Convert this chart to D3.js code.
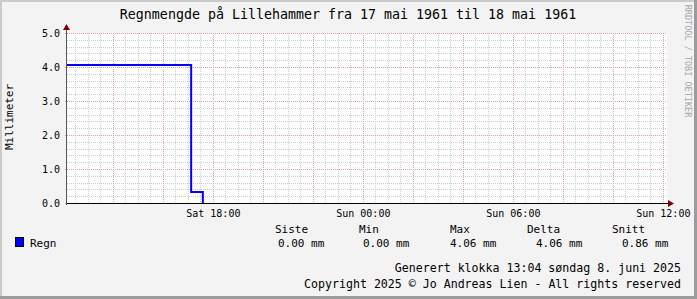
<!DOCTYPE html>
<html>
<head>
<meta charset="utf-8">
<script src="https://cdn.jsdelivr.net/npm/d3@7"></script>
<style>
  body { margin: 0; background: #f3f3f3; }
  svg text { font-family: "DejaVu Sans Mono", monospace; fill: #000; }
</style>
</head>
<body>
<svg id="chart" width="697" height="299"></svg>
<script>
// data (step values in mm)
var times = ["1961-05-20T12:10", "1961-05-20T17:08", "1961-05-20T17:36", "1961-05-20T17:36"];
var values = [4.06, 0.32, 0.0, 0.0];
var endTime = "1961-05-21T12:10";
var yTicks = [0, 1, 2, 3, 4, 5];
var legendHeads = ["Siste", "Min", "Max", "Delta", "Snitt"];
var legendVals = ["0.00 mm", "0.00 mm", "4.06 mm", "4.06 mm", "0.86 mm"];

var parseTime = d3.timeParse("%Y-%m-%dT%H:%M");
var dayNames = ["Sun", "Mon", "Tue", "Wed", "Thu", "Fri", "Sat"];

var svg = d3.select("#chart"),
    width = 697,
    height = 299;

var margin = {top: 33, right: 30, bottom: 96, left: 67};

// background + 3d border
svg.append("rect").attr("width", width).attr("height", height).attr("fill", "#f3f3f3");
svg.append("path").attr("d", "M0,0H697V2H2V299H0Z").attr("fill", "#cbcbcb");
svg.append("path").attr("d", "M697,0V299H0V296H694V0Z").attr("fill", "#9b9b9b");

var x = d3.scaleTime()
    .domain([parseTime(times[0]), parseTime(endTime)])
    .range([margin.left, width - margin.right]);

var y = d3.scaleLinear()
    .domain([0, 5])
    .range([height - margin.bottom, margin.top]);

// canvas
svg.append("rect")
    .attr("x", x.range()[0]).attr("y", y(5))
    .attr("width", x.range()[1] - x.range()[0]).attr("height", y(0) - y(5))
    .attr("fill", "#fff");

var grid = svg.append("g").attr("shape-rendering", "crispEdges");

// minor grid
var minorX = d3.timeMinute.every(30).range(x.domain()[0], x.domain()[1]);
grid.selectAll(".vmin").data(minorX).enter().append("line")
    .attr("x1", d => Math.round(x(d)) + 0.5).attr("x2", d => Math.round(x(d)) + 0.5)
    .attr("y1", y(5)).attr("y2", y(0))
    .attr("stroke", "#cdcdcd").attr("stroke-dasharray", "1,1");

var minorY = d3.range(0, 5.01, 0.2);
grid.selectAll(".hmin").data(minorY).enter().append("line")
    .attr("x1", x.range()[0]).attr("x2", x.range()[1])
    .attr("y1", d => Math.round(y(d)) + 0.5).attr("y2", d => Math.round(y(d)) + 0.5)
    .attr("stroke", "#cdcdcd").attr("stroke-dasharray", "1,1");

// major grid
var majorX = d3.timeHour.every(2).range(x.domain()[0], x.domain()[1]);
grid.selectAll(".vmaj").data(majorX).enter().append("line")
    .attr("x1", d => Math.round(x(d)) + 0.5).attr("x2", d => Math.round(x(d)) + 0.5)
    .attr("y1", y(5)).attr("y2", y(0) + 2)
    .attr("stroke", "#e3a0a0").attr("stroke-dasharray", "1,1");

grid.selectAll(".hmaj").data(yTicks).enter().append("line")
    .attr("x1", x.range()[0] - 2).attr("x2", x.range()[1])
    .attr("y1", d => Math.round(y(d)) + 0.5).attr("y2", d => Math.round(y(d)) + 0.5)
    .attr("stroke", "#e3a0a0").attr("stroke-dasharray", "1,1");

// the data line
var data = times.map((t, i) => ({t: parseTime(t), v: values[i]}));
var line = d3.line()
    .x(d => x(d.t))
    .y(d => y(d.v))
    .curve(d3.curveStepAfter);
svg.append("path")
    .datum(data)
    .attr("fill", "none")
    .attr("stroke", "#0000ff")
    .attr("stroke-width", 2)
    .attr("d", line);

// axes
var yAxis = g => g
    .attr("transform", `translate(${x.range()[0]},0)`)
    .call(d3.axisLeft(y).tickValues(yTicks).tickFormat(d3.format(".1f")).tickSize(0).tickPadding(7))
    .call(g => g.select(".domain").remove())
    .call(g => g.selectAll("text").attr("font-size", 10).attr("font-family", "DejaVu Sans Mono"));
svg.append("g").call(yAxis);

var labelTicks = d3.timeHour.every(6).range(x.domain()[0], x.domain()[1]);
var xAxis = g => g
    .attr("transform", `translate(0,${y(0)})`)
    .call(d3.axisBottom(x).tickValues(labelTicks)
        .tickFormat(d => dayNames[d.getDay()] + " " + d3.timeFormat("%H:%M")(d))
        .tickSize(0).tickPadding(7))
    .call(g => g.select(".domain").remove())
    .call(g => g.selectAll("text").attr("font-size", 10).attr("font-family", "DejaVu Sans Mono"));
svg.append("g").call(xAxis);

// axis lines with arrows
svg.append("line")
    .attr("x1", x.range()[0] - 1).attr("x2", x.range()[1] + 2)
    .attr("y1", y(0) + 0.5).attr("y2", y(0) + 0.5)
    .attr("stroke", "#000").attr("shape-rendering", "crispEdges");
svg.append("line")
    .attr("x1", x.range()[0] - 0.5).attr("x2", x.range()[0] - 0.5)
    .attr("y1", y(0) + 2).attr("y2", y(5) - 3)
    .attr("stroke", "#555").attr("shape-rendering", "crispEdges");
svg.append("path")
    .attr("d", `M${x.range()[1] + 1},${y(0) - 3}l6,3.5l-6,3.5Z`)
    .attr("fill", "#7f0000");
svg.append("path")
    .attr("d", `M${x.range()[0] - 4},${y(5) - 3}l3.5,-6l3.5,6Z`)
    .attr("fill", "#7f0000");

// title
svg.append("text")
    .attr("x", 348).attr("y", 19)
    .attr("text-anchor", "middle")
    .attr("font-size", 13.3)
    .text("Regnmengde på Lillehammer fra 17 mai 1961 til 18 mai 1961");

// y label
svg.append("text")
    .attr("transform", "translate(13,117) rotate(-90)")
    .attr("text-anchor", "middle")
    .attr("font-size", 11)
    .text("Millimeter");

// watermark
svg.append("text")
    .attr("transform", "translate(685,61) rotate(90)")
    .attr("text-anchor", "middle")
    .attr("font-size", 8.5)
    .style("fill", "#a8a8a8")
    .text("RRDTOOL / TOBI OETIKER");

// legend
svg.append("rect")
    .attr("x", 15.5).attr("y", 237.5).attr("width", 8).attr("height", 9)
    .attr("fill", "#0000ff").attr("stroke", "#000");
svg.append("text").attr("x", 30).attr("y", 247).attr("font-size", 11).text("Regn");

var headX = [275, 359, 450, 527, 612];
var valX = [278, 363, 450, 536, 622];
svg.selectAll(".lh").data(legendHeads).enter().append("text")
    .attr("x", (d, i) => headX[i]).attr("y", 233)
    .attr("font-size", 11).text(d => d);
svg.selectAll(".lv").data(legendVals).enter().append("text")
    .attr("x", (d, i) => valX[i]).attr("y", 247)
    .attr("font-size", 11).attr("xml:space", "preserve").text(d => d);

// footer
svg.append("text").attr("x", 681).attr("y", 272).attr("text-anchor", "end")
    .attr("font-size", 11.6).text("Generert klokka 13:04 søndag 8. juni 2025");
svg.append("text").attr("x", 681).attr("y", 288).attr("text-anchor", "end")
    .attr("font-size", 11.6).text("Copyright 2025 © Jo Andreas Lien - All rights reserved");
</script>
</body>
</html>
